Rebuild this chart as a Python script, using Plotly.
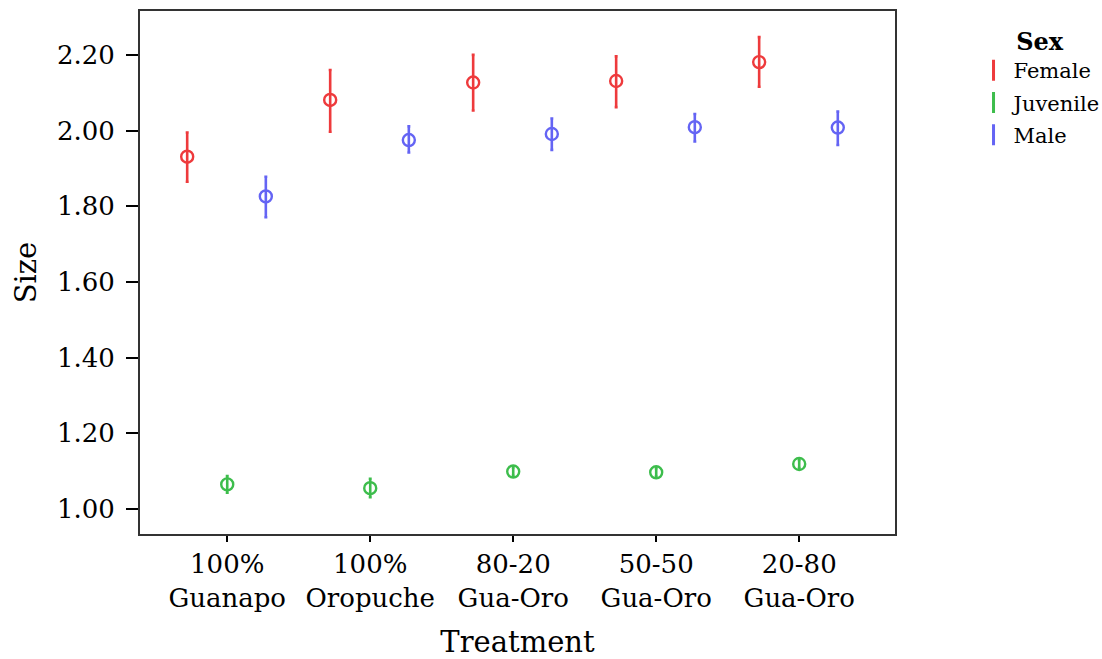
import plotly.graph_objects as go

treatments = ["100%<br>Guanapo", "100%<br>Oropuche", "80-20<br>Gua-Oro", "50-50<br>Gua-Oro", "20-80<br>Gua-Oro"]
sexes = ["Female", "Juvenile", "Male"]
colors = {"Female": "#EE3A3C", "Juvenile": "#3DBD4C", "Male": "#6464F4"}
offsets = {"Female": -0.28, "Juvenile": 0.0, "Male": 0.27}

mean_female = [1.931, 2.081, 2.127, 2.131, 2.181]
upper_female = [1.995, 2.160, 2.200, 2.196, 2.247]
lower_female = [1.865, 1.997, 2.053, 2.062, 2.116]

mean_juvenile = [1.065, 1.055, 1.099, 1.097, 1.119]
upper_juvenile = [1.087, 1.080, 1.110, 1.108, 1.130]
lower_juvenile = [1.043, 1.031, 1.088, 1.086, 1.108]

mean_male = [1.826, 1.975, 1.991, 2.009, 2.008]
upper_male = [1.878, 2.011, 2.032, 2.044, 2.050]
lower_male = [1.771, 1.942, 1.949, 1.971, 1.962]

data = {
    "Female": (mean_female, upper_female, lower_female),
    "Juvenile": (mean_juvenile, upper_juvenile, lower_juvenile),
    "Male": (mean_male, upper_male, lower_male),
}

y_ticks = [1.0, 1.2, 1.4, 1.6, 1.8, 2.0, 2.2]
font = "DejaVu Serif"

fig = go.Figure()
for s in sexes:
    m, u, l = data[s]
    xs = [i + offsets[s] for i in range(len(treatments))]
    fig.add_trace(go.Scatter(
        x=xs, y=m, mode="markers", showlegend=False,
        marker=dict(symbol="circle-open", size=12, color=colors[s], line=dict(width=2.4, color=colors[s])),
        error_y=dict(type="data", symmetric=False,
                     array=[a - b for a, b in zip(u, m)],
                     arrayminus=[b - c for b, c in zip(m, l)],
                     color=colors[s], thickness=2.6, width=1.5),
    ))
for s in sexes:
    fig.add_trace(go.Scatter(
        x=[None], y=[None], mode="markers", name=s, legendgroup=s,
        marker=dict(symbol="line-ns-open", size=15, color=colors[s], line=dict(width=3, color=colors[s])),
    ))

fig.update_layout(
    width=1102, height=659,
    margin=dict(l=140, r=207, t=11, b=125, autoexpand=False),
    paper_bgcolor="white", plot_bgcolor="white",
    font=dict(family=font, color="black", size=20),
    showlegend=True,
    legend=dict(
        title=dict(text="<b>Sex</b>", font=dict(size=24, family=font), side="top center"),
        font=dict(size=21, family=font),
        x=1.104, xanchor="left", y=0.985, yanchor="top",
        tracegroupgap=2, itemwidth=30,
        bgcolor="rgba(0,0,0,0)",
    ),
    xaxis=dict(
        range=[-0.61, 4.67], tickmode="array", automargin=False,
        tickvals=list(range(len(treatments))), ticktext=treatments,
        ticks="outside", ticklen=6, tickwidth=1.5, tickcolor="black",
        showline=True, linecolor="#333333", linewidth=2, mirror=True,
        showgrid=False, zeroline=False,
        tickfont=dict(size=26, family=font),
        title=dict(text="Treatment", font=dict(size=29, family=font), standoff=32),
    ),
    yaxis=dict(
        range=[0.934, 2.316], tickmode="array", automargin=False,
        tickvals=y_ticks, ticktext=[f"{v:.2f}" for v in y_ticks],
        ticks="outside", ticklen=12, tickwidth=1.5, tickcolor="black",
        ticklabelstandoff=6,
        showline=True, linecolor="#333333", linewidth=2, mirror=True,
        showgrid=False, zeroline=False,
        tickfont=dict(size=26, family=font),
        title=dict(text="Size", font=dict(size=29, family=font), standoff=12),
    ),
)

fig.write_html("out.html")
